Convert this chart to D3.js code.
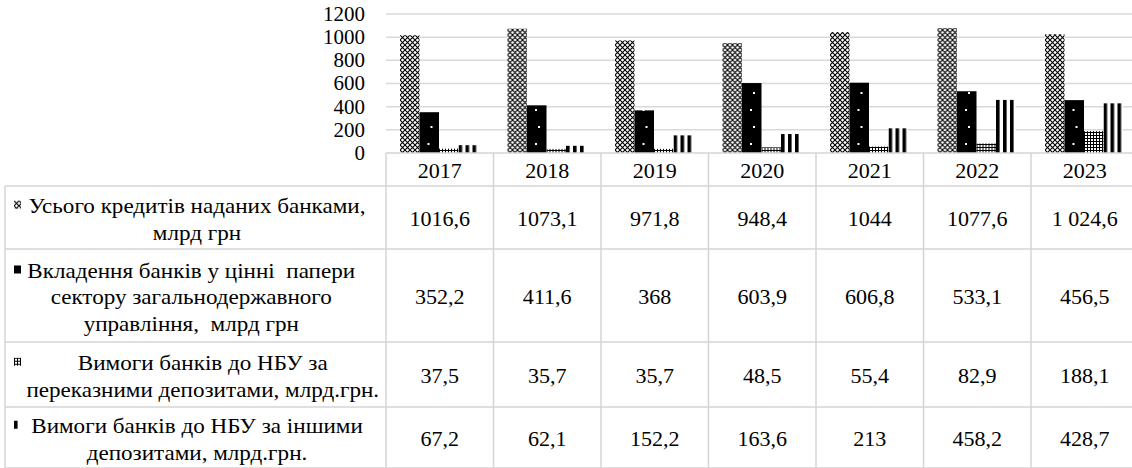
<!DOCTYPE html>
<html lang="uk">
  <head>
    <meta charset="utf-8">
    <title>bank_credits_table</title>
    <script src="https://d3js.org/d3.v7.min.js"></script>
    <style>
      body { margin: 0; background: #fff; }
    </style>
  </head>

  <body>

  <script>

// data

  var years = ["2017", "2018", "2019", "2020", "2021", "2022", "2023"];

  var credits    = [1016.6, 1073.1, 971.8, 948.4, 1044, 1077.6, 1024.6];
  var securities = [352.2, 411.6, 368, 603.9, 606.8, 533.1, 456.5];
  var transfer   = [37.5, 35.7, 35.7, 48.5, 55.4, 82.9, 188.1];
  var otherDep   = [67.2, 62.1, 152.2, 163.6, 213, 458.2, 428.7];

  var creditsText    = ["1016,6", "1073,1", "971,8", "948,4", "1044", "1077,6", "1 024,6"];
  var securitiesText = ["352,2", "411,6", "368", "603,9", "606,8", "533,1", "456,5"];
  var transferText   = ["37,5", "35,7", "35,7", "48,5", "55,4", "82,9", "188,1"];
  var otherDepText   = ["67,2", "62,1", "152,2", "163,6", "213", "458,2", "428,7"];

  var seriesLabels = [
    ["Усього кредитів наданих банками,", "млрд грн"],
    ["Вкладення банків у цінні  папери  ", "сектору загальнодержавного  ", "управління,  млрд грн  "],
    ["  Вимоги банків до НБУ за", "  переказними депозитами, млрд.грн."],
    ["Вимоги банків до НБУ за іншими", "депозитами, млрд.грн."]
  ];

  var yTicks = [0, 200, 400, 600, 800, 1000, 1200];

  var series = [credits, securities, transfer, otherDep];
  var seriesText = [creditsText, securitiesText, transferText, otherDepText];

// layout

  var w = 1132;
  var h = 468;
  var plotLeft = 386;
  var colW = 107.5;
  var tableLeft = 5;
  var rowLines = [186, 249, 342, 407, 468];
  var xStretch = 1.05;
  var serif = "'Times New Roman', 'Liberation Serif', 'DejaVu Serif', serif";

  var svg = d3.select("body")
    .append("svg")
      .attr("width", w)
      .attr("height", h);

  svg.append("rect")
      .attr("width", w)
      .attr("height", h)
      .attr("fill", "#fff");

  // patterns
  var defs = svg.append("defs");

  var p1 = defs.append("pattern")
      .attr("id", "pCross")
      .attr("patternUnits", "userSpaceOnUse")
      .attr("width", 5).attr("height", 5);
  p1.append("rect").attr("width", 5).attr("height", 5).attr("fill", "#fff");
  p1.append("path").attr("d", "M0,0 L5,5 M5,0 L0,5")
      .attr("stroke", "#000").attr("stroke-width", 1.1);

  var p2 = defs.append("pattern")
      .attr("id", "pDots")
      .attr("patternUnits", "userSpaceOnUse")
      .attr("width", 20).attr("height", 34);
  p2.append("rect").attr("width", 20).attr("height", 34).attr("fill", "#000");
  p2.append("rect").attr("x", 8).attr("y", 7).attr("width", 2).attr("height", 2).attr("fill", "#fff");
  p2.append("rect").attr("x", 11).attr("y", 24).attr("width", 2).attr("height", 2).attr("fill", "#fff");

  var p3 = defs.append("pattern")
      .attr("id", "pGrid")
      .attr("patternUnits", "userSpaceOnUse")
      .attr("width", 3).attr("height", 3);
  p3.append("rect").attr("width", 3).attr("height", 3).attr("fill", "#fff");
  p3.append("path").attr("d", "M0,0.5 H3 M0.5,0 V3")
      .attr("stroke", "#000").attr("stroke-width", 1);

  var p4 = defs.append("pattern")
      .attr("id", "pStripes")
      .attr("patternUnits", "userSpaceOnUse")
      .attr("width", 7).attr("height", 10);
  p4.append("rect").attr("width", 7).attr("height", 10).attr("fill", "#fff");
  p4.append("rect").attr("width", 3.6).attr("height", 10).attr("fill", "#000");

  var fills = ["url(#pCross)", "url(#pDots)", "url(#pGrid)", "url(#pStripes)"];

// scales

  var xScale = d3.scaleBand()
      .domain(years)
      .range([plotLeft, plotLeft + colW * years.length])
      .padding(0);

  var xInner = d3.scaleBand()
      .domain(d3.range(series.length))
      .range([14, colW - 15.5])
      .padding(0);

  var yScale = d3.scaleLinear()
      .domain([0, 1200])
      .range([153, 14]);

// gridlines

  svg.append("g")
    .selectAll("line")
    .data(yTicks.filter(d => d > 0))
    .enter().append("line")
      .attr("x1", plotLeft)
      .attr("x2", w)
      .attr("y1", d => yScale(d))
      .attr("y2", d => yScale(d))
      .attr("stroke", "#d9d9d9")
      .attr("stroke-width", 1.5);

// y axis

  var yAxis = d3.axisLeft(yScale)
      .tickValues(yTicks)
      .tickSize(0)
      .tickPadding(21)
      .tickFormat(d3.format("d"));

  var yG = svg.append("g")
      .attr("transform", `translate(${plotLeft}, 0)`)
      .call(yAxis)
      .attr("font-family", serif)
      .attr("font-size", 20);
  yG.select(".domain").remove();
  yG.selectAll("text")
      .attr("fill", "#000")
      .attr("transform", `translate(-21, 0) scale(${xStretch},1) translate(21, 0)`);

// bars

  var groups = svg.append("g")
    .selectAll("g")
    .data(years)
    .enter().append("g");

  groups.each(function(year, i) {
    var g = d3.select(this);
    series.forEach(function(vals, s) {
      var bx = xScale(year) + xInner(s);
      g.append("g")
          .attr("transform", `translate(${bx}, 0)`)
        .append("rect")
          .attr("x", 0)
          .attr("y", yScale(vals[i]))
          .attr("width", xInner.bandwidth())
          .attr("height", yScale(0) - yScale(vals[i]))
          .attr("fill", fills[s]);
    });
  });

// data table

  var grid = svg.append("g")
      .attr("stroke", "#d4d4d4")
      .attr("stroke-width", 1.5);

  grid.append("line")
      .attr("x1", plotLeft).attr("x2", w)
      .attr("y1", 153).attr("y2", 153);

  grid.selectAll(".hrow")
    .data(rowLines)
    .enter().append("line")
      .attr("class", "hrow")
      .attr("x1", tableLeft).attr("x2", w)
      .attr("y1", d => d).attr("y2", d => d);

  grid.append("line")
      .attr("x1", tableLeft).attr("x2", tableLeft)
      .attr("y1", rowLines[0]).attr("y2", h);

  grid.selectAll(".vcol")
    .data(years)
    .enter().append("line")
      .attr("class", "vcol")
      .attr("x1", d => xScale(d)).attr("x2", d => xScale(d))
      .attr("y1", 153).attr("y2", h);

  var txt = svg.append("g")
      .attr("font-family", serif)
      .attr("fill", "#000");

  function stretched(sel, x, y) {
    sel.attr("transform", `translate(${x}, ${y}) scale(${xStretch},1)`);
  }

  // year headers
  txt.append("g")
    .selectAll("text")
    .data(years)
    .enter().append("text")
      .attr("text-anchor", "middle")
      .attr("dominant-baseline", "central")
      .attr("font-size", 21)
      .text(d => d)
      .each(function(d) {
        stretched(d3.select(this), xScale(d) + colW / 2, 171);
      });

  // values
  seriesText.forEach(function(vals, s) {
    var cy = (rowLines[s] + rowLines[s + 1]) / 2 + 2;
    txt.append("g")
      .selectAll("text")
      .data(vals)
      .enter().append("text")
        .attr("text-anchor", "middle")
        .attr("dominant-baseline", "central")
        .attr("font-size", 21)
        .text(d => d)
        .each(function(d, i) {
          stretched(d3.select(this), xScale(years[i]) + colW / 2, cy);
        });
  });

  // row labels with legend keys
  var labelCx = 197;
  var lineH = 26.5;
  seriesLabels.forEach(function(lines, s) {
    var cy = (rowLines[s] + rowLines[s + 1]) / 2 + 1.5;
    var top = cy - (lines.length - 1) * lineH / 2;
    lines.forEach(function(line, k) {
      txt.append("text")
          .attr("text-anchor", "middle")
          .attr("dominant-baseline", "central")
          .attr("font-size", 22)
          .attr("xml:space", "preserve")
          .style("white-space", "pre")
          .text(line)
          .call(stretched, labelCx, top + k * lineH);
    });
    svg.append("g")
        .attr("transform", `translate(14, ${top - 5})`)
      .append("rect")
        .attr("width", 7)
        .attr("height", 8)
        .attr("fill", fills[s]);
  });

    </script>

  </body>

</html>
